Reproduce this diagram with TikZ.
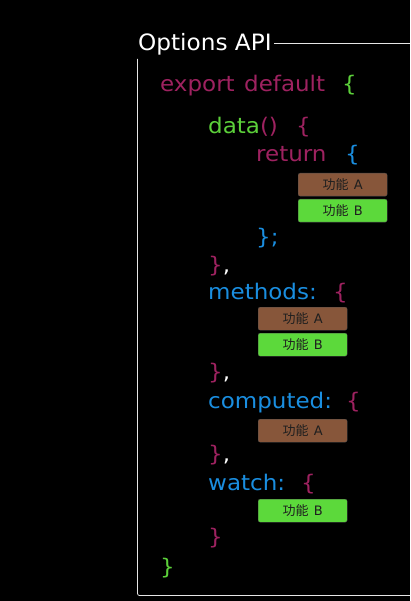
\documentclass[tikz,border=0pt]{standalone}
\usepackage{fontspec}
\setmainfont[FakeStretch=1.07]{DejaVu Sans}
\newfontfamily\titlefont[FakeStretch=1.03]{DejaVu Sans}
\newfontfamily\cjk{Noto Sans CJK SC}
\newfontfamily\boxlat{DejaVu Sans}
\definecolor{mar}{HTML}{9E2260}
\definecolor{grn}{HTML}{5CD03A}
\definecolor{blu}{HTML}{1A8EE0}
\definecolor{boxbrown}{HTML}{87563A}
\definecolor{boxgreen}{HTML}{5CD93B}
\definecolor{frame}{HTML}{E6E6E6}
\newcommand{\feattext}[1]{{\cjk 功能}\hspace{0.4em}{\boxlat #1}}
\begin{document}
\begin{tikzpicture}[x=1pt,y=-1pt,
  code/.style={anchor=base west,inner sep=0pt,font=\fontsize{21.5}{24}\selectfont},
  feat/.style={draw=black!70,line width=0.3pt,rounded corners=2pt,minimum width=89pt,minimum height=23pt,inner sep=0pt,anchor=north west,font=\fontsize{13}{15}\selectfont,text=black!88},
  fa/.style={feat,fill=boxbrown},
  fb/.style={feat,fill=boxgreen},
  frm/.style={draw=frame,line width=0.8pt}]
\fill[black] (0,0) rectangle (410,601);
\useasboundingbox (0,0) rectangle (410,601);
% title and frame
\node[anchor=base west,inner sep=0pt,text=white,font=\titlefont\fontsize{22.5}{26}\selectfont] (title) at (138,51) {Options API};
\coordinate (tr) at (410,43);
\coordinate (tl) at ([xshift=2pt]title.east |- tr);
\draw[frm] (tl) -- (tr);
\coordinate (vt) at (137.5,59);
\coordinate (bl) at (137.5,595.5);
\coordinate (br) at (410,595.5);
\draw[frm,rounded corners=2pt] (vt) -- (bl) -- (br);
% code
\node[code,text=mar] (exp) at (160,92) {export};
\node[code,text=mar] (def) at (244,92) {default};
\node[code,text=grn] (b0) at (342,92) {\{};
\node[code,text=grn] (data) at (208,134) {data\textcolor{mar}{()}};
\node[code,text=mar] (b1) at (296,134) {\{};
\node[code,text=mar] (ret) at (256,162) {return};
\node[code,text=blu] (b2) at (345,162) {\{};
\node[fa] (a1) at (298,173) {\feattext{A}};
\node[fb] (f1) at (298,199) {\feattext{B}};
\node[code,text=blu] (c2) at (256,244) {\};};
\node[code,text=mar] (c1) at (208,272) {\}\textcolor{white}{,}};
\node[code,text=blu] (meth) at (208,299) {methods:};
\node[code,text=mar] (b3) at (333,299) {\{};
\node[fa] (a2) at (258,307) {\feattext{A}};
\node[fb] (f2) at (258,333) {\feattext{B}};
\node[code,text=mar] (c3) at (208,379) {\}\textcolor{white}{,}};
\node[code,text=blu] (comp) at (208,408) {computed:};
\node[code,text=mar] (b4) at (346,408) {\{};
\node[fa] (a3) at (258,419) {\feattext{A}};
\node[code,text=mar] (c4) at (208,461) {\}\textcolor{white}{,}};
\node[code,text=blu] (watch) at (208,490) {watch:};
\node[code,text=mar] (b5) at (301,490) {\{};
\node[fb] (f3) at (258,499) {\feattext{B}};
\node[code,text=mar] (c5) at (208,544) {\}};
\node[code,text=grn] (c0) at (160,574) {\}};
\end{tikzpicture}
\end{document}
